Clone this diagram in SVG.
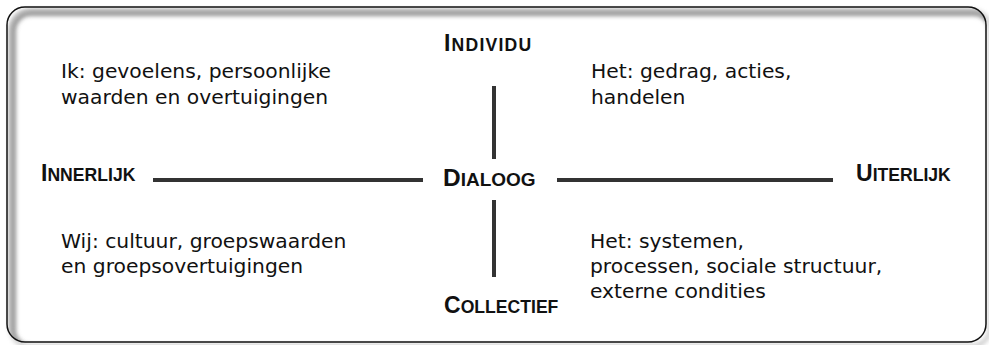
<svg xmlns="http://www.w3.org/2000/svg" width="989" height="345" viewBox="0 0 989 345">
<defs>
<filter id="blur" x="-5%" y="-10%" width="110%" height="120%"><feGaussianBlur stdDeviation="2"/></filter>
<clipPath id="inside"><rect x="7" y="7" width="979" height="335" rx="18" ry="18"/></clipPath>
<style>
.body{font-family:"DejaVu Sans","Liberation Sans",sans-serif;font-size:20.3px;fill:#111}
.sc{font-family:"Liberation Sans",Arial,sans-serif;font-weight:bold;font-size:17.6px;fill:#111}
.big{font-size:23px}
.conn{stroke:#333;stroke-width:4;fill:none}
</style>
</defs>
<g id="frame">
<rect x="0" y="0" width="989" height="345" fill="#fff"/>
<rect x="7" y="7" width="979" height="335" rx="18" ry="18" fill="#fff"/>
<rect x="13" y="13" width="979" height="335" rx="18" ry="18" fill="none" stroke="#999" stroke-width="6" filter="url(#blur)" clip-path="url(#inside)"/>
<rect x="11" y="11" width="979" height="335" rx="18" ry="18" fill="none" stroke="#aaa" stroke-width="4" filter="url(#blur)" opacity="0.6"/>
<rect x="7" y="7" width="979" height="335" rx="18" ry="18" fill="none" stroke="#111" stroke-width="1.5"/>
</g>
<g id="connectors">
<line class="conn" x1="494" y1="86" x2="494" y2="159"/>
<line class="conn" x1="494" y1="200" x2="494" y2="277"/>
<line class="conn" x1="153" y1="180" x2="423" y2="180"/>
<line class="conn" x1="557" y1="180" x2="833" y2="180"/>
</g>
<g id="individu"><text class="sc" x="444" y="51" letter-spacing="1.2"><tspan class="big">I</tspan>NDIVIDU</text></g>
<g id="dialoog"><text class="sc" x="443" y="186" style="font-size:19px"><tspan style="font-size:24.5px">D</tspan>IALOOG</text></g>
<g id="collectief"><text class="sc" x="444" y="313"><tspan class="big">C</tspan>OLLECTIEF</text></g>
<g id="innerlijk"><text class="sc" x="41" y="181"><tspan class="big">I</tspan>NNERLIJK</text></g>
<g id="uiterlijk"><text class="sc" x="856" y="181"><tspan class="big">U</tspan>ITERLIJK</text></g>
<g id="ik"><text class="body" x="61" y="78">Ik: gevoelens, persoonlijke</text><text class="body" x="61" y="104">waarden en overtuigingen</text></g>
<g id="het-gedrag"><text class="body" x="591" y="78">Het: gedrag, acties,</text><text class="body" x="591" y="104">handelen</text></g>
<g id="wij"><text class="body" x="61" y="248">Wij: cultuur, groepswaarden</text><text class="body" x="61" y="273">en groepsovertuigingen</text></g>
<g id="het-systemen"><text class="body" x="590" y="248">Het: systemen,</text><text class="body" x="590" y="273">processen, sociale structuur,</text><text class="body" x="590" y="298">externe condities</text></g>
</svg>
